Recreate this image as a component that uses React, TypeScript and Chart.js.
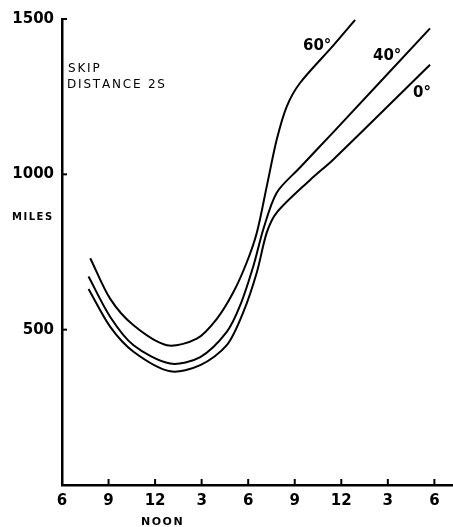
import React, { useEffect, useRef } from "react";
import { Chart, registerables } from "chart.js";

Chart.register(...registerables);

// hours after 6 AM
const hourTicks = [0, 3, 6, 9, 12, 15, 18, 21, 24];
const hourLabels = ["6", "9", "12", "3", "6", "9", "12", "3", "6"];
const yTicks = [500, 1000, 1500];

const series60 = [
  { x: 1.82, y: 730 }, { x: 3.11, y: 599 }, { x: 4.61, y: 514 }, { x: 6.76, y: 450 },
  { x: 8.69, y: 471 }, { x: 9.98, y: 535 }, { x: 11.05, y: 621 }, { x: 11.91, y: 717 },
  { x: 12.56, y: 813 }, { x: 13.2, y: 962 }, { x: 13.84, y: 1112 }, { x: 14.49, y: 1219 },
  { x: 15.34, y: 1294 }, { x: 17.49, y: 1415 }, { x: 18.89, y: 1497 },
];
const series40 = [
  { x: 1.71, y: 671 }, { x: 3.11, y: 541 }, { x: 4.61, y: 450 }, { x: 6.97, y: 391 },
  { x: 8.91, y: 412 }, { x: 10.62, y: 493 }, { x: 11.48, y: 578 }, { x: 12.34, y: 706 },
  { x: 12.98, y: 824 }, { x: 13.84, y: 941 }, { x: 15.34, y: 1022 }, { x: 17.49, y: 1136 },
  { x: 23.72, y: 1470 },
];
const series0 = [
  { x: 1.71, y: 631 }, { x: 3.11, y: 509 }, { x: 4.61, y: 429 }, { x: 6.97, y: 366 },
  { x: 8.91, y: 386 }, { x: 10.62, y: 450 }, { x: 11.69, y: 557 }, { x: 12.56, y: 685 },
  { x: 13.2, y: 813 }, { x: 13.84, y: 877 }, { x: 15.99, y: 982 }, { x: 17.49, y: 1048 },
  { x: 23.72, y: 1353 },
];

const FONT = "'DejaVu Sans', sans-serif";

function spaced(ctx: any, text: string, x: number, y: number, spacing: number) {
  let cx = x;
  for (const ch of text) {
    ctx.fillText(ch, cx, y);
    cx += ctx.measureText(ch).width + spacing;
  }
}

const decorPlugin = {
  id: "decor",
  afterDraw(chart: any) {
    const ctx = chart.ctx;
    const xs = chart.scales.x;
    const ys = chart.scales.y;
    ctx.save();
    ctx.strokeStyle = "#000";
    ctx.lineWidth = 2;
    for (const v of hourTicks.slice(1)) {
      const px = xs.getPixelForValue(v);
      ctx.beginPath();
      ctx.moveTo(px, ys.bottom);
      ctx.lineTo(px, ys.bottom - 6);
      ctx.stroke();
    }
    for (const v of yTicks) {
      const py = ys.getPixelForValue(v);
      ctx.beginPath();
      ctx.moveTo(xs.left, py);
      ctx.lineTo(xs.left + 5, py);
      ctx.stroke();
    }
    ctx.fillStyle = "#000";
    ctx.textBaseline = "alphabetic";
    ctx.textAlign = "left";
    ctx.font = `12px ${FONT}`;
    spaced(ctx, "SKIP", 68, 72, 1.8);
    spaced(ctx, "DISTANCE 2S", 67, 88, 1.8);
    ctx.font = `bold 10px ${FONT}`;
    spaced(ctx, "MILES", 12, 220, 1.5);
    ctx.font = `bold 11px ${FONT}`;
    spaced(ctx, "NOON", 141, 525, 1.5);
    ctx.font = `bold 15px ${FONT}`;
    ctx.fillText("60°", 303, 50);
    ctx.fillText("40°", 373, 60);
    ctx.fillText("0°", 413, 97);
    ctx.restore();
  },
};

export default function App() {
  const ref = useRef<HTMLCanvasElement | null>(null);
  useEffect(() => {
    if (!ref.current) return;
    const ds = (data: any[]) => ({
      data,
      borderColor: "#000",
      borderWidth: 2,
      pointRadius: 0,
      fill: false,
      tension: 0.3,
    });
    const chart = new Chart(ref.current, {
      type: "line",
      data: { datasets: [ds(series60), ds(series40), ds(series0)] },
      options: {
        animation: false,
        responsive: false,
        layout: { padding: { top: 19, right: 0, left: 0, bottom: 0 } },
        plugins: { legend: { display: false }, tooltip: { enabled: false } },
        scales: {
          x: {
            type: "linear",
            min: 0,
            max: 25.2,
            afterBuildTicks: (s: any) => {
              s.ticks = hourTicks.map((v) => ({ value: v }));
            },
            afterFit: (s: any) => {
              s.height = 42;
            },
            grid: { display: false, drawTicks: false },
            border: { display: true, color: "#000", width: 2.5 },
            ticks: {
              color: "#000",
              padding: 7,
              maxRotation: 0,
              autoSkip: false,
              font: { family: FONT, size: 15, weight: "bold" },
              callback: (v: any) => {
                const i = hourTicks.indexOf(Number(v));
                return i >= 0 ? hourLabels[i] : "";
              },
            },
          },
          y: {
            type: "linear",
            min: 0,
            max: 1500,
            afterBuildTicks: (s: any) => {
              s.ticks = yTicks.map((v) => ({ value: v }));
            },
            afterFit: (s: any) => {
              s.width = 62;
            },
            grid: { display: false, drawTicks: false },
            border: { display: true, color: "#000", width: 2.5 },
            ticks: {
              color: "#000",
              padding: 8,
              font: { family: FONT, size: 15, weight: "bold" },
              callback: (v: any) => String(v),
            },
          },
        },
      },
      plugins: [decorPlugin],
    });
    return () => chart.destroy();
  }, []);
  return (
    <div style={{ position: "absolute", left: 0, top: 0, width: 453, height: 527, background: "#fff" }}>
      <canvas ref={ref} width={453} height={527} />
    </div>
  );
}
